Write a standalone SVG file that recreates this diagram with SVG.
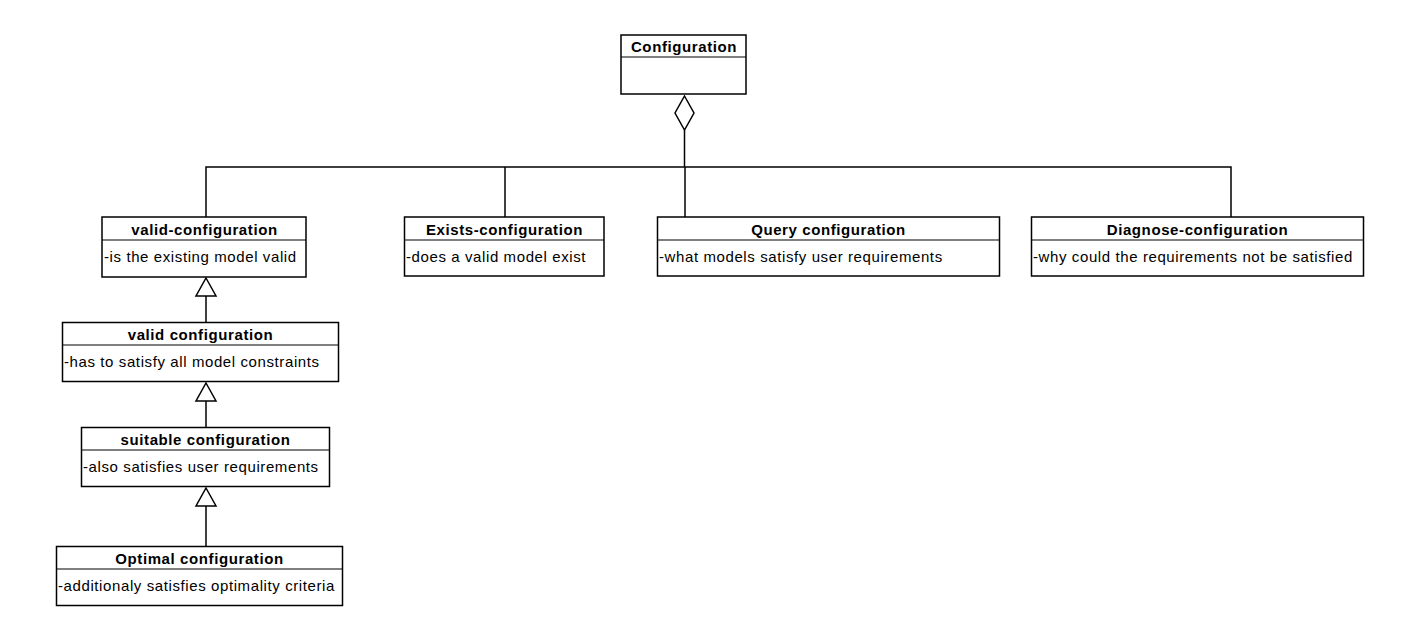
<svg xmlns="http://www.w3.org/2000/svg" width="1417" height="632" viewBox="0 0 1417 632">
<style>
.box{fill:#fff;stroke:#000;stroke-width:1.5}
.sep{stroke:#000;stroke-width:1.2}
.h{font-family:"Liberation Sans",Arial,sans-serif;font-size:15px;letter-spacing:0.6px;font-weight:bold;text-anchor:middle;fill:#000}
.b{font-family:"Liberation Sans",Arial,sans-serif;font-size:15px;letter-spacing:0.6px;fill:#000}
.ln{fill:none;stroke:#000;stroke-width:1.5}
.tri{fill:#fff;stroke:#000;stroke-width:1.5}
</style>
<rect width="1417" height="632" fill="#fff"/>
<g id="connectors">
<polyline class="ln" points="684.5,130 684.5,167"/>
<polyline class="ln" points="206,217 206,167 1231,167 1231,217"/>
<line class="ln" x1="505" y1="167" x2="505" y2="217"/>
<line class="ln" x1="685" y1="167" x2="685" y2="217"/>
<polygon class="ln" style="fill:#fff" points="684.5,96 694,113 684.5,130 675,113"/>
<line class="ln" x1="206" y1="296" x2="206" y2="322"/>
<polygon class="tri" points="206,278 216,296 196,296"/>
<line class="ln" x1="206" y1="401" x2="206" y2="427"/>
<polygon class="tri" points="206,383 216,401 196,401"/>
<line class="ln" x1="206" y1="506" x2="206" y2="546"/>
<polygon class="tri" points="206,488 216,506 196,506"/>
</g>
<g id="Configuration">
<rect class="box" x="621" y="35" width="125" height="59"/>
<line class="sep" x1="621" y1="57" x2="746" y2="57"/>
<text class="h" x="684" y="52">Configuration</text>
</g>
<g id="valid-configuration">
<rect class="box" x="102" y="217" width="204" height="60"/>
<line class="sep" x1="102" y1="240" x2="306" y2="240"/>
<text class="h" x="204.5" y="235">valid-configuration</text>
<text class="b" x="104" y="262">-is the existing model valid</text>
</g>
<g id="Exists-configuration">
<rect class="box" x="404.5" y="217" width="199.5" height="59"/>
<line class="sep" x1="404.5" y1="240" x2="604" y2="240"/>
<text class="h" x="504.5" y="235">Exists-configuration</text>
<text class="b" x="406" y="262">-does a valid model exist</text>
</g>
<g id="Query-configuration">
<rect class="box" x="657.5" y="217" width="342" height="59"/>
<line class="sep" x1="657.5" y1="240" x2="999.5" y2="240"/>
<text class="h" x="828.5" y="235">Query configuration</text>
<text class="b" x="659" y="262">-what models satisfy user requirements</text>
</g>
<g id="Diagnose-configuration">
<rect class="box" x="1031.5" y="217" width="332" height="59"/>
<line class="sep" x1="1031.5" y1="240" x2="1363.5" y2="240"/>
<text class="h" x="1197.5" y="235">Diagnose-configuration</text>
<text class="b" x="1033" y="262">-why could the requirements not be satisfied</text>
</g>
<g id="valid-configuration-2">
<rect class="box" x="62.5" y="322.5" width="276" height="59"/>
<line class="sep" x1="62.5" y1="345" x2="338.5" y2="345"/>
<text class="h" x="200.5" y="340">valid configuration</text>
<text class="b" x="64" y="367">-has to satisfy all model constraints</text>
</g>
<g id="suitable-configuration">
<rect class="box" x="81.5" y="427.5" width="248" height="59"/>
<line class="sep" x1="81.5" y1="450" x2="329.5" y2="450"/>
<text class="h" x="205.5" y="445">suitable configuration</text>
<text class="b" x="83" y="472">-also satisfies user requirements</text>
</g>
<g id="Optimal-configuration">
<rect class="box" x="56.5" y="546.5" width="286" height="59"/>
<line class="sep" x1="56.5" y1="569" x2="342.5" y2="569"/>
<text class="h" x="199.5" y="564">Optimal configuration</text>
<text class="b" x="58" y="591">-additionaly satisfies optimality criteria</text>
</g>
</svg>
